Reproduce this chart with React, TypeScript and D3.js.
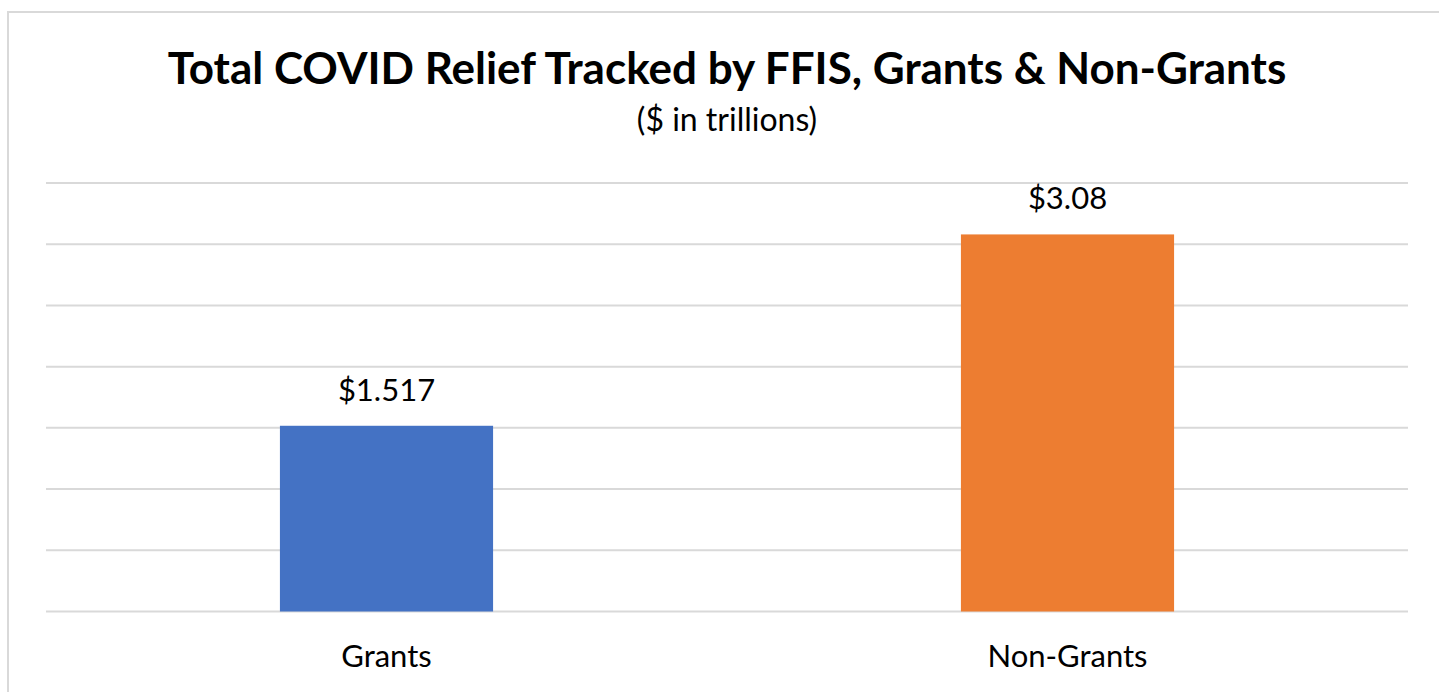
import React from "react";
import * as d3 from "d3";

const categories = ["Grants", "Non-Grants"];
const values = [1.517, 3.08];
const valueLabels = ["$1.517", "$3.08"];
const barColors = ["#4472C4", "#ED7D31"];
const yTicks = [0, 0.5, 1, 1.5, 2, 2.5, 3, 3.5];
const titleText = "Total COVID Relief Tracked by FFIS, Grants & Non-Grants";
const subtitleText = "($ in trillions)";

const W = 1439;
const H = 692;
const FONT = "Lato, 'Open Sans', sans-serif";

export default function App() {
  const plotLeft = 46;
  const plotRight = 1408;
  const x = d3
    .scaleBand<string>()
    .domain(categories)
    .range([plotLeft, plotRight])
    .paddingInner(0.687)
    .paddingOuter(0.3435);
  const y = d3.scaleLinear().domain([0, 3.5]).range([611.5, 183]);
  const cx = (plotLeft + plotRight) / 2;

  return (
    <svg
      width={W}
      height={H}
      style={{ position: "absolute", left: 0, top: 0, display: "block", background: "#fff" }}
    >
      <rect x={8} y={12} width={1445} height={700} fill="#fff" stroke="#d9d9d9" strokeWidth={2} />
      <text x={cx} y={84} textAnchor="middle" fontFamily={FONT} fontWeight={700} fontSize={44} fill="#000">
        {titleText}
      </text>
      <text x={cx} y={131} textAnchor="middle" fontFamily={FONT} fontSize={32} fill="#000">
        {subtitleText}
      </text>
      {yTicks.map((t) => (
        <line key={t} x1={plotLeft} x2={plotRight} y1={y(t)} y2={y(t)} stroke="#d9d9d9" strokeWidth={2} />
      ))}
      {categories.map((c, i) => (
        <g key={c}>
          <rect
            x={x(c)!}
            y={y(values[i])}
            width={x.bandwidth()}
            height={y(0) - y(values[i])}
            fill={barColors[i]}
          />
          <text
            x={x(c)! + x.bandwidth() / 2}
            y={y(values[i]) - 25}
            textAnchor="middle"
            fontFamily={FONT}
            fontSize={31}
            fill="#000"
          >
            {valueLabels[i]}
          </text>
          <text
            x={x(c)! + x.bandwidth() / 2}
            y={667}
            textAnchor="middle"
            fontFamily={FONT}
            fontSize={31}
            fill="#000"
          >
            {c}
          </text>
        </g>
      ))}
    </svg>
  );
}
